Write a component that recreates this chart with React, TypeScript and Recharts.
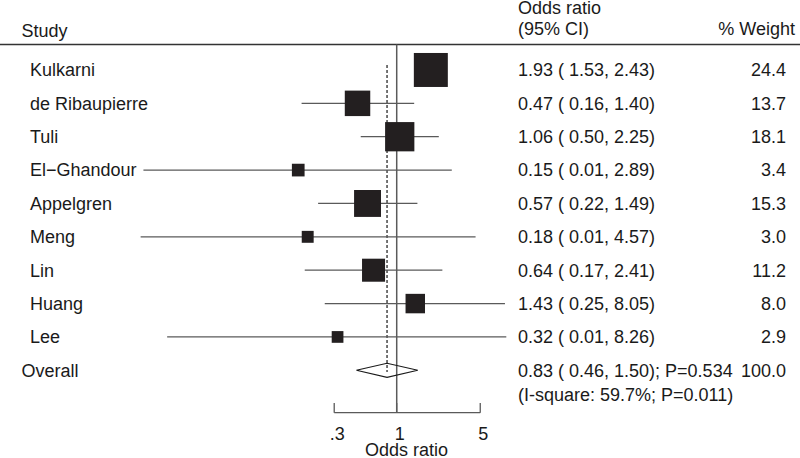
import {
  ComposedChart,
  XAxis,
  YAxis,
  Scatter,
  Line,
  ReferenceLine,
  Customized,
} from "recharts";

const FONT = "'Liberation Sans', Arial, Helvetica, sans-serif";
const INK = "#1a1a1a";
const LINE = "#5a5a5a";
const BOX = "#231f20";

const studies = [
  "Kulkarni",
  "de Ribaupierre",
  "Tuli",
  "El\u2212Ghandour",
  "Appelgren",
  "Meng",
  "Lin",
  "Huang",
  "Lee",
];
const oddsRatio = [1.93, 0.47, 1.06, 0.15, 0.57, 0.18, 0.64, 1.43, 0.32];
const ciLow = [1.53, 0.16, 0.5, 0.0076, 0.22, 0.0072, 0.17, 0.25, 0.012];
const ciHigh = [2.43, 1.4, 2.25, 2.89, 1.49, 4.57, 2.41, 8.05, 8.26];
const weights = [24.4, 13.7, 18.1, 3.4, 15.3, 3.0, 11.2, 8.0, 2.9];

const overallLabel = "Overall";
const overallOR = 0.83;
const overallLow = 0.46;
const overallHigh = 1.5;
const overallP = "0.534";
const overallWeight = 100.0;
const heterogeneity = "(I-square: 59.7%; P=0.011)";

const xTicks = [0.3, 1, 5];
const xTickLabels = [".3", "1", "5"];

const W = 800;
const H = 458;
const ROWS_END = 10.27; // row position of the x axis line
const OVERALL_ROW = studies.length;

const fmtCI = (or: number, lo: number, hi: number) =>
  `${or.toFixed(2)} ( ${lo.toFixed(2)}, ${hi.toFixed(2)})`;

const rowTicks = [...studies.map((_, i) => i), OVERALL_ROW];

const boxData = oddsRatio.map((v, i) => ({ x: v, y: i, w: weights[i] }));

const diamondData = [
  { x: overallLow, y: OVERALL_ROW },
  { x: overallOR, y: OVERALL_ROW - 0.21 },
  { x: overallHigh, y: OVERALL_ROW },
  { x: overallOR, y: OVERALL_ROW + 0.21 },
  { x: overallLow, y: OVERALL_ROW },
];

const txt = { fontFamily: FONT, fontSize: 18, fill: INK };

function StudyTick(props: any) {
  const i = props.payload.value;
  const isOverall = i === OVERALL_ROW;
  return (
    <text x={isOverall ? 21.5 : 30} y={props.y + 6.4} textAnchor="start" style={txt}>
      {isOverall ? overallLabel : studies[i]}
    </text>
  );
}

function StatTick(props: any) {
  const i = props.payload.value;
  const y = props.y + 6.4;
  if (i === OVERALL_ROW) {
    return (
      <g>
        <text x={518} y={y} style={txt}>
          {`${fmtCI(overallOR, overallLow, overallHigh)}; P=${overallP}`}
        </text>
        <text x={786} y={y} textAnchor="end" style={txt}>
          {overallWeight.toFixed(1)}
        </text>
        <text x={518} y={y + 24.7} style={txt}>
          {heterogeneity}
        </text>
      </g>
    );
  }
  return (
    <g>
      <text x={518} y={y} style={txt}>
        {fmtCI(oddsRatio[i], ciLow[i], ciHigh[i])}
      </text>
      <text x={786} y={y} textAnchor="end" style={txt}>
        {weights[i].toFixed(1)}
      </text>
    </g>
  );
}

function OddsTick(props: any) {
  const idx = xTicks.indexOf(props.payload.value);
  return (
    <text x={props.x + 3} y={440} textAnchor="middle" style={txt}>
      {xTickLabels[idx]}
    </text>
  );
}

function Header() {
  return (
    <g>
      <text x={21.5} y={36.5} style={txt}>Study</text>
      <text x={518} y={13.5} style={txt}>Odds ratio</text>
      <text x={518} y={35} style={txt}>(95% CI)</text>
      <text x={795} y={35} textAnchor="end" style={txt}>% Weight</text>
      <line x1={0} x2={W} y1={44.5} y2={44.5} stroke="#333" strokeWidth={1.3} />
      <text x={406.5} y={456} textAnchor="middle" style={txt}>Odds ratio</text>
    </g>
  );
}

function Box(props: any) {
  const s = 6.88 * Math.sqrt(props.payload.w);
  return <rect x={props.cx - s / 2} y={props.cy - s / 2} width={s} height={s} fill={BOX} />;
}

export default function App() {
  return (
    <div style={{ position: "absolute", left: 0, top: 0, background: "#fff" }}>
      <ComposedChart width={W} height={H} margin={{ top: 36.6, right: 0, bottom: 0, left: 0 }}>
        <XAxis
          type="number"
          dataKey="x"
          scale="log"
          domain={[0.005, 20]}
          allowDataOverflow
          ticks={xTicks}
          interval={0}
          axisLine={false}
          tickLine={false}
          tick={<OddsTick />}
          height={45.3}
        />
        <YAxis
          type="number"
          dataKey="y"
          domain={[-1, ROWS_END]}
          allowDataOverflow
          reversed
          ticks={rowTicks}
          interval={0}
          axisLine={false}
          tickLine={false}
          tick={<StudyTick />}
          width={121.7}
        />
        <YAxis
          yAxisId="right"
          orientation="right"
          type="number"
          domain={[-1, ROWS_END]}
          allowDataOverflow
          reversed
          ticks={rowTicks}
          interval={0}
          axisLine={false}
          tickLine={false}
          tick={<StatTick />}
          width={247.8}
        />

        <ReferenceLine
          segment={[{ x: 1, y: -0.764 }, { x: 1, y: ROWS_END }]}
          stroke={LINE}
          strokeWidth={1.5}
        />
        <ReferenceLine
          segment={[{ x: overallOR, y: -0.15 }, { x: overallOR, y: OVERALL_ROW + 0.05 }]}
          stroke={INK}
          strokeWidth={1.2}
          strokeDasharray="3 2"
        />
        <ReferenceLine
          segment={[{ x: xTicks[0], y: ROWS_END }, { x: xTicks[xTicks.length - 1], y: ROWS_END }]}
          stroke={LINE}
          strokeWidth={1.3}
        />
        {xTicks.map((t) => (
          <ReferenceLine
            key={`tick-${t}`}
            segment={[{ x: t, y: ROWS_END }, { x: t, y: 9.98 }]}
            stroke={LINE}
            strokeWidth={1.3}
          />
        ))}
        {studies.map((s, i) => (
          <ReferenceLine
            key={`ci-${s}`}
            segment={[{ x: ciLow[i], y: i }, { x: ciHigh[i], y: i }]}
            stroke={LINE}
            strokeWidth={1.3}
          />
        ))}

        <Scatter data={boxData} shape={<Box />} isAnimationActive={false} />
        <Line
          data={diamondData}
          dataKey="y"
          type="linear"
          stroke={INK}
          strokeWidth={1.1}
          dot={false}
          activeDot={false}
          isAnimationActive={false}
        />
        <Customized component={<Header />} />
      </ComposedChart>
    </div>
  );
}
